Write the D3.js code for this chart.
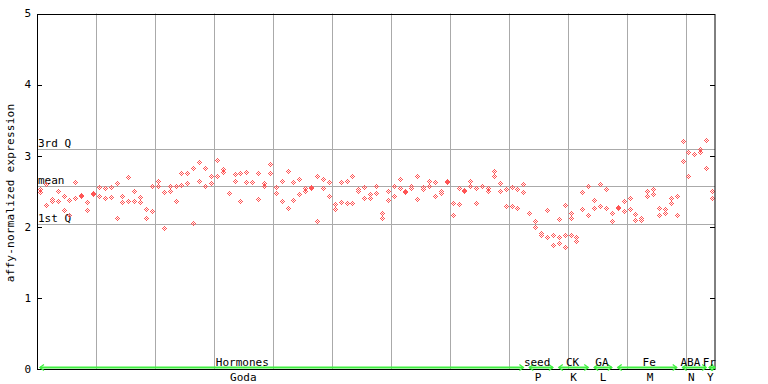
<!DOCTYPE html>
<html><head><meta charset="utf-8">
<script src="https://cdn.jsdelivr.net/npm/d3@7"></script>
<style>
body{margin:0;background:#fff}
text{font-family:"DejaVu Sans Mono","Liberation Mono",monospace;font-size:11px;fill:#000}
</style>
</head><body>
<svg id="c" width="768" height="384"></svg>
<script>
// ---- data ----
const yTicks = [0, 1, 2, 3, 4, 5];
const quartileLabels = ["3rd Q", "mean", "1st Q"];
const quartileValues = [3.10, 2.58, 2.04];
// replicate values per sample slot (slot index = array index)
const sampleValues = [
 [2.53,2.49],[2.60,2.30],[2.39,2.36],[2.51,2.36],[2.44,2.23],[2.37,2.16],[2.63,2.40],[2.45,2.43],[2.35,2.24],[2.47,2.46],
 [2.56,2.44],[2.54,2.40],[2.56,2.42],[2.61,2.12],[2.43,2.35],[2.70,2.36],[2.51,2.36],[2.42,2.35],[2.25,2.13],[2.58,2.22],
 [2.64,2.58],[2.49,1.99],[2.58,2.50],[2.58,2.36],[2.75,2.59],[2.75,2.62],[2.82,2.06],[2.91,2.65],[2.82,2.58],[2.72,2.62],
 [2.94,2.72],[2.81,2.77],[2.47],[2.74,2.65],[2.75,2.36],[2.77,2.63],[2.63],[2.75,2.39],[2.62,2.58],[2.88,2.75],
 [2.56,2.47],[2.65,2.36],[2.79,2.27],[2.63,2.37],[2.67,2.46],[2.54,2.51],[2.56,2.54],[2.72,2.08],[2.67,2.54],[2.63,2.44],
 [2.32,2.25],[2.63,2.35],[2.65,2.33],[2.71,2.33],[2.53,2.51],[2.56,2.40],[2.46,2.40],[2.57,2.47],[2.19,2.13],[2.50,2.37],
 [2.57,2.43],[2.67,2.54],[2.51,2.49],[2.58,2.54],[2.71,2.39],[2.56,2.53],[2.64,2.57],[2.63,2.44],[2.50,2.48],[2.65,2.63],
 [2.33,2.16],[2.54,2.32],[2.52,2.50],[2.64,2.58],[2.54,2.34],[2.57],[2.54,2.51],[2.79,2.71],[2.61,2.51],[2.53,2.29],
 [2.56,2.29],[2.53,2.26],[2.60,2.49],[2.20],[2.08,2.00],[1.91,1.88],[2.23,1.85],[1.88,1.75],[2.11,1.85,1.77],[2.30,1.88,1.71],
 [2.20,2.12,1.88],[1.85,1.80],[2.49,2.25],[2.58,2.16],[2.37,2.26],[2.60,2.29],[2.53,2.27],[2.19,2.08],[2.28,2.27],[2.36,2.22],
 [2.40,2.25],[2.18,2.09],[2.13,2.10],[2.50,2.44],[2.53,2.46],[2.26,2.16],[2.25,2.19],[2.41,2.33],[2.43,2.16],[3.20,2.92],
 [3.05,2.72],[3.03,3.02],[3.10,3.05],[3.22,2.82],[2.51,2.40]
];
const groupTop = ["Hormones", "seed", "CK", "GA", "Fe", "ABA", "Fr"];
const groupBottom = ["Goda", "P", "K", "L", "M", "N", "Y"];
const groupStart = [0, 83, 88, 94, 98, 109, 114];
const groupEnd = [82, 87, 93, 97, 108, 113, 114];
// slot (in sample units) where each group's labels are centred
const groupLabelSlot = [35, 85, 91, 96, 104, 111, 114.2];
const gridEvery = 10;

// ---- layout ----
const svg = d3.select("#c");
const L = 37, R = 715, T = 13.5, B = 369;
const x = d3.scaleBand().domain(d3.range(sampleValues.length)).range([L, R]).padding(0);
const bw = x.bandwidth();
const cx = i => x(i) + bw / 2;
const xu = d3.scaleLinear().domain([0, sampleValues.length]).range([L, R]);
const y = d3.scaleLinear().domain([0, 5]).range([B, T]);
const red = "#ff5555", green = "#40f040", grid = "#aaaaaa";

const g = svg.append("g");

// vertical grid
const vlines = d3.range(gridEvery, sampleValues.length, gridEvery);
g.selectAll(".vg").data(vlines).enter().append("line")
  .attr("x1", d => Math.round(x(d)) + 0.5).attr("x2", d => Math.round(x(d)) + 0.5)
  .attr("y1", T).attr("y2", B).attr("stroke", grid).attr("stroke-width", 1);

// quartile lines
g.selectAll(".qg").data(quartileValues).enter().append("line")
  .attr("x1", L).attr("x2", R)
  .attr("y1", d => Math.round(y(d)) + 0.5).attr("y2", d => Math.round(y(d)) + 0.5)
  .attr("stroke", grid).attr("stroke-width", 1);
g.selectAll(".ql").data(quartileValues).enter().append("text")
  .attr("x", L + 1).attr("y", d => Math.round(y(d)) - 2.5)
  .text((d, i) => quartileLabels[i]);

// points: pixel checker diamonds
const pts = [];
sampleValues.forEach((vals, i) => vals.forEach(v => pts.push({ i, v })));
function diamondPath() {
  let p = "";
  for (let dy = -2; dy <= 2; dy++) for (let dx = -2; dx <= 2; dx++) {
    if (Math.abs(dx) + Math.abs(dy) <= 2 && ((dx + dy) % 2 === 0)) {
      p += `M${dx - 0.5},${dy - 0.5}h1v1h-1z`;
    }
  }
  return p;
}
const dp = diamondPath();
g.selectAll(".pt").data(pts).enter().append("path")
  .attr("transform", d => `translate(${Math.round(cx(d.i)) + 0.5},${Math.round(y(d.v)) + 0.5})`)
  .attr("d", dp).attr("fill", red).attr("shape-rendering", "crispEdges");

// frame
g.append("rect").attr("x", L + 0.5).attr("y", Math.round(T) + 0.5)
  .attr("width", R - L - 1 + 0.5).attr("height", B - Math.round(T))
  .attr("fill", "none").attr("stroke", "#000").attr("stroke-width", 1);

// ticks
g.selectAll(".tl").data(yTicks).enter().append("line")
  .attr("x1", L).attr("x2", L + 5)
  .attr("y1", d => Math.round(y(d)) + 0.5).attr("y2", d => Math.round(y(d)) + 0.5)
  .attr("stroke", "#000");
g.selectAll(".tr").data(yTicks).enter().append("line")
  .attr("x1", R - 5).attr("x2", R)
  .attr("y1", d => Math.round(y(d)) + 0.5).attr("y2", d => Math.round(y(d)) + 0.5)
  .attr("stroke", "#000");
g.selectAll(".tt").data(yTicks).enter().append("text")
  .attr("x", 31).attr("y", d => y(d)).attr("dy", "0.35em")
  .attr("text-anchor", "end").text(d => d);

// y label
svg.append("text").attr("transform", "translate(14,193) rotate(-90)")
  .attr("text-anchor", "middle").attr("letter-spacing", "0.25px")
  .text("affy-normalized expression");

// groups
const gy = 367.5;
groupTop.forEach((name, k) => {
  const s = groupStart[k], e = groupEnd[k];
  let x1 = cx(s), x2 = cx(e);
  if (x2 - x1 < 6) { x1 -= 3; x2 += 3; }
  g.append("line").attr("x1", x1).attr("x2", x2).attr("y1", gy).attr("y2", gy)
    .attr("stroke", green).attr("stroke-width", 2);
  g.append("path").attr("d", `M${x1 + 4},${gy - 3}L${x1},${gy}L${x1 + 4},${gy + 3}`)
    .attr("fill", "none").attr("stroke", green).attr("stroke-width", 1.3);
  g.append("path").attr("d", `M${x2 - 4},${gy - 3}L${x2},${gy}L${x2 - 4},${gy + 3}`)
    .attr("fill", "none").attr("stroke", green).attr("stroke-width", 1.3);
  const mid = xu(groupLabelSlot[k]);
  g.append("text").attr("x", mid - 1).attr("y", 366).attr("text-anchor", "middle").text(name);
  g.append("text").attr("x", mid).attr("y", 381).attr("text-anchor", "middle").text(groupBottom[k]);
});
</script>
</body></html>
